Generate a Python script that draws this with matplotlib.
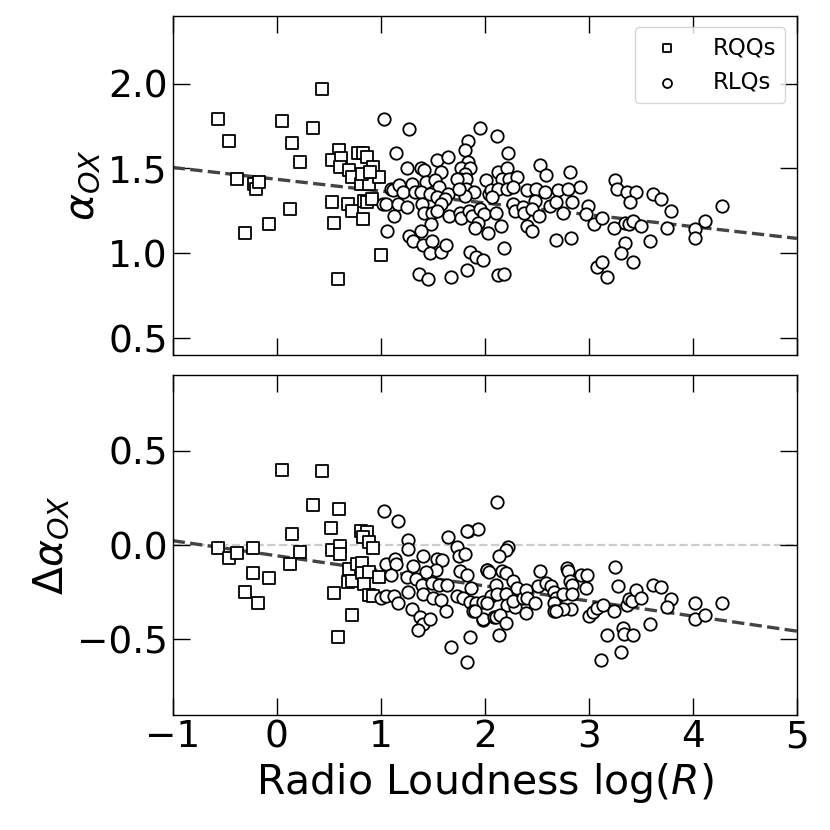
import numpy as np
import matplotlib
matplotlib.use('Agg')
import matplotlib.pyplot as plt

# --- top panel: alpha_OX vs log(R) ---
rqq_logR_top = [-0.56, -0.46, -0.38, -0.22, -0.20, -0.17, -0.30, -0.07, 0.05, 0.15,
                0.22, 0.13, 0.35, 0.44, 0.60, 0.53, 0.62, 0.61, 0.70, 0.72,
                0.78, 0.83, 0.87, 0.93, 0.81, 0.89, 0.98, 0.82, 0.90, 0.53,
                0.69, 0.72, 0.84, 0.87, 0.92, 0.55, 0.83, 1.00, 0.59]
rqq_aox = [1.79, 1.66, 1.44, 1.41, 1.38, 1.42, 1.12, 1.17, 1.78, 1.65,
           1.54, 1.26, 1.74, 1.97, 1.61, 1.55, 1.56, 1.51, 1.49, 1.45,
           1.59, 1.59, 1.57, 1.51, 1.41, 1.41, 1.45, 1.47, 1.48, 1.30,
           1.29, 1.25, 1.31, 1.30, 1.32, 1.18, 1.20, 0.99, 0.85]

rlq_logR_top = [1.03, 1.15, 1.10, 1.12, 1.18, 1.02, 1.05, 1.17, 1.13, 1.06,
                1.27, 1.95, 2.12, 1.84, 1.81, 2.22, 1.54, 1.65, 1.25, 1.39,
                1.42, 1.58, 1.84, 1.77, 1.86, 1.81, 1.76, 1.82, 2.13, 2.21,
                2.17, 2.23, 2.31, 2.01, 2.53, 2.59, 1.30, 1.44, 1.52, 1.56,
                1.65, 1.21, 1.33, 1.39, 1.47, 1.54, 1.62, 1.73, 1.82, 1.90,
                1.81, 1.75, 2.04, 2.06, 2.13, 2.21, 2.27, 2.07, 2.41, 2.49,
                2.58, 2.48, 2.70, 1.25, 1.40, 1.58, 1.42, 1.49, 1.54, 1.66,
                1.76, 1.77, 1.85, 1.88, 1.95, 1.99, 1.94, 1.91, 2.03, 2.11,
                2.16, 2.27, 2.29, 2.37, 2.38, 2.45, 2.52, 2.41, 2.45, 2.69,
                1.48, 1.39, 1.27, 1.31, 1.41, 1.49, 1.47, 1.58, 1.63, 1.86,
                1.92, 1.98, 2.19, 1.37, 1.45, 1.68, 1.83, 2.13, 2.19, 2.82,
                2.92, 2.80, 2.84, 2.75, 2.83, 2.99, 2.97, 3.05, 3.13, 3.24,
                3.25, 3.27, 3.37, 3.45, 3.40, 3.35, 3.39, 3.43, 3.50, 3.35,
                3.31, 3.43, 3.08, 3.13, 3.18, 3.59, 3.62, 3.69, 3.79, 3.75,
                4.02, 4.02, 4.12, 4.28, 2.63, 2.69]
rlq_aox = [1.79, 1.59, 1.38, 1.37, 1.40, 1.29, 1.29, 1.29, 1.22, 1.13,
           1.73, 1.74, 1.69, 1.66, 1.61, 1.59, 1.55, 1.57, 1.50, 1.50,
           1.49, 1.48, 1.54, 1.50, 1.50, 1.47, 1.44, 1.44, 1.48, 1.50,
           1.44, 1.44, 1.45, 1.43, 1.52, 1.46, 1.41, 1.42, 1.43, 1.39,
           1.35, 1.36, 1.36, 1.36, 1.35, 1.33, 1.32, 1.44, 1.38, 1.36,
           1.34, 1.38, 1.35, 1.37, 1.38, 1.38, 1.39, 1.33, 1.37, 1.38,
           1.36, 1.31, 1.37, 1.27, 1.29, 1.29, 1.24, 1.24, 1.25, 1.22,
           1.24, 1.21, 1.25, 1.22, 1.26, 1.23, 1.18, 1.15, 1.12, 1.24,
           1.16, 1.29, 1.25, 1.27, 1.24, 1.26, 1.22, 1.16, 1.13, 1.08,
           1.17, 1.13, 1.10, 1.07, 1.05, 1.07, 1.00, 1.01, 1.05, 1.01,
           0.98, 0.96, 1.03, 0.88, 0.85, 0.86, 0.90, 0.87, 0.88, 1.48,
           1.39, 1.38, 1.30, 1.24, 1.09, 1.28, 1.23, 1.17, 1.21, 1.15,
           1.43, 1.38, 1.36, 1.36, 1.30, 1.18, 1.17, 1.19, 1.16, 1.06,
           1.00, 0.95, 0.92, 0.95, 0.86, 1.07, 1.35, 1.32, 1.25, 1.15,
           1.14, 1.09, 1.19, 1.28, 1.28, 1.30]

# --- bottom panel: Delta alpha_OX vs log(R) ---
rqq_logR_bot = [0.05, 0.44, 0.35, 0.60, 0.15, 0.52, 0.81, 0.87, 0.83, 0.89,
                0.93, -0.56, -0.46, -0.38, -0.23, 0.22, 0.13, -0.23, -0.07, -0.30,
                -0.18, 0.53, 0.61, 0.61, 0.70, 0.77, 0.82, 0.69, 0.72, 0.82,
                0.89, 0.84, 0.98, 0.89, 0.93, 0.55, 0.72, 0.59]
rqq_daox = [0.40, 0.395, 0.21, 0.19, 0.06, 0.09, 0.076, 0.069, 0.044, 0.014,
            -0.016, -0.018, -0.067, -0.041, -0.016, -0.035, -0.10, -0.15, -0.175, -0.25,
            -0.31, -0.027, -0.005, -0.048, -0.127, -0.10, -0.097, -0.198, -0.189, -0.15,
            -0.145, -0.207, -0.172, -0.263, -0.269, -0.254, -0.373, -0.49]

rlq_logR_bot = [1.03, 1.17, 1.26, 1.26, 1.05, 1.14, 1.15, 1.10, 1.00, 1.05,
                1.13, 1.17, 1.25, 1.31, 1.41, 1.54, 1.59, 1.53, 1.44, 1.34,
                1.26, 1.65, 1.73, 1.75, 1.81, 1.84, 1.94, 1.83, 1.40, 1.49,
                1.56, 1.64, 1.41, 1.50, 1.58, 1.63, 1.30, 1.38, 1.41, 1.47,
                1.36, 1.76, 1.83, 1.87, 1.73, 1.79, 1.86, 1.92, 1.98, 1.98,
                1.89, 1.68, 1.86, 1.83, 2.02, 2.12, 2.22, 2.20, 2.14, 2.02,
                2.04, 2.17, 2.20, 2.27, 2.31, 2.06, 2.11, 2.12, 2.20, 2.21,
                2.29, 2.27, 2.37, 2.40, 2.41, 2.48, 2.51, 2.53, 2.59, 2.64,
                2.67, 2.69, 2.67, 2.02, 1.98, 1.91, 2.09, 2.11, 2.15, 2.20,
                2.14, 2.40, 2.67, 2.79, 2.80, 2.82, 2.84, 2.93, 2.98, 2.97,
                2.75, 2.84, 2.83, 2.75, 2.69, 3.00, 3.04, 3.08, 3.14, 3.24,
                3.25, 3.28, 3.18, 3.12, 3.31, 3.33, 3.34, 3.43, 3.37, 3.39,
                3.42, 3.45, 3.50, 3.59, 3.62, 3.69, 3.79, 3.75, 4.02, 4.02,
                4.12, 4.28]
rlq_daox = [0.18, 0.13, 0.026, -0.021, -0.10, -0.074, -0.10, -0.157, -0.28, -0.27,
            -0.27, -0.31, -0.17, -0.11, -0.058, -0.074, -0.08, -0.13, -0.145, -0.18,
            -0.25, 0.044, -0.009, -0.057, -0.048, 0.076, 0.085, 0.072, -0.21, -0.20,
            -0.21, -0.21, -0.26, -0.28, -0.29, -0.35, -0.34, -0.38, -0.42, -0.39,
            -0.45, -0.14, -0.16, -0.23, -0.27, -0.28, -0.30, -0.31, -0.30, -0.40,
            -0.35, -0.54, -0.49, -0.62, -0.13, 0.226, -0.013, -0.026, -0.06, -0.13,
            -0.145, -0.14, -0.15, -0.19, -0.23, -0.27, -0.21, -0.26, -0.26, -0.32,
            -0.33, -0.296, -0.28, -0.24, -0.28, -0.31, -0.22, -0.14, -0.20, -0.22,
            -0.25, -0.28, -0.31, -0.31, -0.39, -0.35, -0.38, -0.38, -0.37, -0.415,
            -0.475, -0.36, -0.35, -0.12, -0.136, -0.19, -0.21, -0.16, -0.16, -0.23,
            -0.26, -0.26, -0.34, -0.34, -0.35, -0.375, -0.357, -0.336, -0.32, -0.35,
            -0.115, -0.216, -0.48, -0.61, -0.57, -0.44, -0.47, -0.48, -0.32, -0.286,
            -0.295, -0.24, -0.28, -0.42, -0.21, -0.225, -0.286, -0.33, -0.31, -0.39,
            -0.37, -0.31]

# linear fits (slope, intercept)
fit_aox = [-0.0697, 1.436]
fit_daox = [-0.080, -0.057]

fs = 27        # tick labels
fs_lab = 29.5  # axis labels
fig, (ax1, ax2) = plt.subplots(2, 1, figsize=(8.3, 8.3), dpi=100, sharex=True)
fig.subplots_adjust(left=0.208, right=0.960, top=0.981, bottom=0.139, hspace=0.06)

xx = np.array([-1.0, 5.0])
mk = dict(facecolor='white', edgecolor='black', s=80, linewidths=1.3, zorder=3)

ax1.scatter(rqq_logR_top, rqq_aox, marker='s', label='RQQs', **mk)
ax1.scatter(rlq_logR_top, rlq_aox, marker='o', label='RLQs', **mk)
ax1.plot(xx, np.polyval(fit_aox, xx), ls='--', color='#444444', lw=2.4, zorder=2)
ax1.set_ylim(0.4, 2.4)
ax1.set_yticks([0.5, 1.0, 1.5, 2.0])
ax1.set_ylabel(r'$\alpha_{OX}$', fontsize=fs_lab)
leg = ax1.legend(loc='upper right', fontsize=16.5, markerscale=0.72, handletextpad=1.0,
                 borderpad=0.4, labelspacing=0.5)

ax2.axhline(0, ls='--', color='#cccccc', lw=1.6, zorder=1)
ax2.scatter(rqq_logR_bot, rqq_daox, marker='s', **mk)
ax2.scatter(rlq_logR_bot, rlq_daox, marker='o', **mk)
ax2.plot(xx, np.polyval(fit_daox, xx), ls='--', color='#444444', lw=2.4, zorder=2)
ax2.set_ylim(-0.9, 0.9)
ax2.set_yticks([-0.5, 0.0, 0.5])
ax2.set_ylabel(r'$\Delta\alpha_{OX}$', fontsize=fs_lab)
ax2.set_xlim(-1, 5)
ax2.set_xticks([-1, 0, 1, 2, 3, 4, 5])
ax2.set_xlabel(r'Radio Loudness log($R$)', fontsize=fs_lab)

for ax in (ax1, ax2):
    ax.tick_params(direction='in', top=True, right=True, length=12, width=1,
                   labelsize=fs)
    for sp in ax.spines.values():
        sp.set_linewidth(1.0)

fig.savefig('out.png', dpi=100)
